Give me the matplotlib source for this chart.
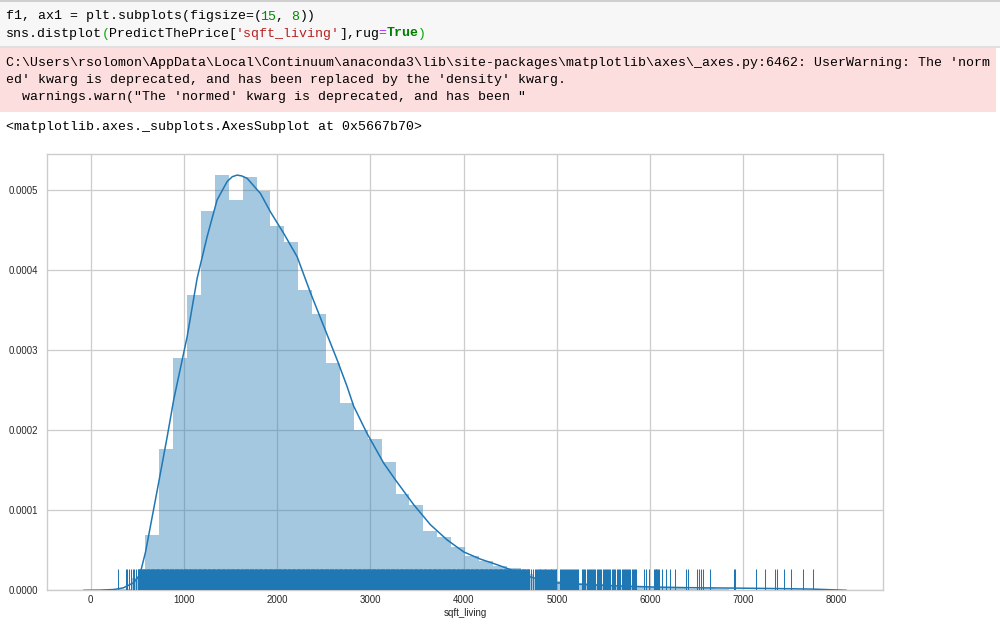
"""Notebook screenshot: sns.distplot of sqft_living with rug"""
import numpy as np
import matplotlib.pyplot as plt
from matplotlib.patches import Rectangle
from matplotlib.transforms import blended_transform_factory

plt.rcParams.update({
    "font.family": ["Liberation Sans", "DejaVu Sans"],
})

W, H = 1000, 628          # output size in px
MONO = "Liberation Mono"  # Courier New metrics
BLUE = "#1f77b4"

# ── Data ──
data_min, data_max, n_bins = 290, 7740, 50
hist_density = [  # x 1e-4
    0.02, 0.15, 0.69, 1.77, 2.90, 3.69, 4.74, 5.19, 4.88, 5.16,
    4.99, 4.56, 4.36, 3.76, 3.45, 2.84, 2.34, 2.00, 1.89, 1.60,
    1.21, 1.07, 0.74, 0.67, 0.54, 0.425, 0.37, 0.30, 0.28, 0.20,
    0.16, 0.12, 0.10, 0.09, 0.08, 0.06, 0.05, 0.05, 0.04, 0.03,
    0.03, 0.02, 0.03, 0.02, 0.01, 0.01, 0.01, 0.005, 0.005, 0.005,
]

kde_x = [-70, 100, 250, 350, 464, 530, 590, 650, 715, 822, 893, 1036, 1143,
         1250, 1357, 1465, 1520, 1572, 1620, 1679, 1822, 1929, 2072, 2215,
         2358, 2501, 2644, 2750, 2822, 2965, 3143, 3269, 3465, 3644, 3823,
         4001, 4180, 4359, 4716, 4966, 5323, 5680, 6038, 6395, 6752, 7110,
         7467, 7750, 8100]
kde_y = [0.0, 0.002, 0.01, 0.03, 0.095, 0.2, 0.48, 0.85, 1.25, 1.92, 2.39,
         3.17, 3.9, 4.42, 4.88, 5.11, 5.17, 5.19, 5.18, 5.15, 4.96, 4.73,
         4.46, 4.17, 3.72, 3.30, 2.88, 2.55, 2.30, 1.96, 1.59, 1.38, 1.07,
         0.82, 0.63, 0.48, 0.39, 0.32, 0.166, 0.095, 0.07, 0.054, 0.041,
         0.033, 0.029, 0.025, 0.02, 0.015, 0.0]

# individual rug ticks that can be told apart
rug_sparse = [290, 380, 393, 410, 430, 457, 470, 490, 4727, 4745,
              5938, 5959, 5984, 6127, 6170, 6216, 6270, 6385, 6402, 6502,
              6520, 6541, 6567, 6645, 6895, 6913, 7131, 7227, 7334, 7363,
              7431, 7506, 7639, 7742]
# stretches where the rug ticks merge into a solid band (start, stop, step)
rug_dense = [(505, 4710, 6), (4770, 5002, 9), (5030, 5235, 11),
             (5270, 5415, 12), (5430, 5628, 12), (5645, 5860, 12),
             (6038, 6102, 10)]

# ── Notebook text ──
code_lines = [
    [("f1, ax1 = plt.subplots(figsize=(", "#000000"), ("15", "#008800"),
     (", ", "#000000"), ("8", "#008800"), ("))", "#000000")],
    [("sns.distplot", "#000000"), ("(", "#00aa00"), ("PredictThePrice[", "#000000"),
     ("'sqft_living'", "#ba2121"), ("],rug", "#000000"), ("=", "#aa22ff"),
     ("True", "#008000"), (")", "#00aa00")],
]
warn_lines = [
    "C:\\Users\\rsolomon\\AppData\\Local\\Continuum\\anaconda3\\lib\\site-packages"
    "\\matplotlib\\axes\\_axes.py:6462: UserWarning: The 'norm",
    "ed' kwarg is deprecated, and has been replaced by the 'density' kwarg.",
    "  warnings.warn(\"The 'normed' kwarg is deprecated, and has been \"",
]
out_line = "<matplotlib.axes._subplots.AxesSubplot at 0x5667b70>"

fig = plt.figure(figsize=(W / 100, H / 100), dpi=100)
fig.patch.set_facecolor("white")

def px_rect(x0, y0, x1, y1, color):
    fig.patches.append(Rectangle((x0 / W, 1 - y1 / H), (x1 - x0) / W, (y1 - y0) / H,
                                 transform=fig.transFigure, color=color, lw=0, zorder=0))

# cell backgrounds
px_rect(0, 1, 1000, 47, "#f7f7f7")
px_rect(0, 0, 1000, 1.5, "#cfcfcf")
px_rect(0, 46.5, 1000, 47.5, "#e0e0e0")
px_rect(0, 48, 996, 112, "#fddede")

fs = 9.5
cw = fs * 100 / 72 * 0.6  # monospace advance, px

for row, segs in zip([16.5, 33.5], code_lines):
    i = 0
    for txt, col in segs:
        nudge = 0.5 if i else 0.0  # keep neighbouring segments from touching
        fig.text((6 + i * cw + nudge) / W, 1 - row / H, txt, family=MONO, fontsize=fs,
                 color=col, va="center", ha="left",
                 fontweight="bold" if txt == "True" else "normal")
        i += len(txt)

for row, txt in zip([63, 80, 97], warn_lines):
    fig.text(6 / W, 1 - row / H, txt, family=MONO, fontsize=fs, color="#000000",
             va="center", ha="left")
fig.text(6 / W, 1 - 127 / H, out_line, family=MONO, fontsize=fs, color="#000000",
         va="center", ha="left")

# ── Plot area ──
ax = fig.add_axes([46.7 / W, 1 - 590.3 / H, (883.3 - 46.7) / W, (590.3 - 154.3) / H])
ax.set_facecolor("white")
ax.set_axisbelow(True)
ax.grid(True, color="#cccccc", lw=0.9)
for s in ax.spines.values():
    s.set_color("#cccccc")
    s.set_linewidth(1.0)

edges = np.linspace(data_min, data_max, n_bins + 1)
ax.bar(edges[:-1], np.array(hist_density) * 1e-4, width=np.diff(edges), align="edge",
       color=BLUE, alpha=0.4, lw=0)
ax.plot(kde_x, np.array(kde_y) * 1e-4, color=BLUE, lw=1.1, zorder=3)

rug = list(rug_sparse)
for a, b, st in rug_dense:
    rug.extend(np.arange(a, b, st))
trans = blended_transform_factory(ax.transData, ax.transAxes)
ax.vlines(rug, 0, 0.05, transform=trans, color=BLUE, lw=0.75, zorder=4)

ax.set_xlim(-470, 8500)
ax.set_ylim(0, 0.000545)
ax.set_xticks(range(0, 8001, 1000))
ax.set_yticks([0, 0.0001, 0.0002, 0.0003, 0.0004, 0.0005])
ax.set_yticklabels([f"{v:.4f}" for v in ax.get_yticks()])
ax.tick_params(length=0, labelsize=6.9, colors="#262626")
ax.tick_params(axis="y", pad=6)
ax.tick_params(axis="x", pad=3.5)
ax.set_xlabel("sqft_living", fontsize=7.0, color="#262626", labelpad=2)

fig.savefig("out.png", dpi=100)
